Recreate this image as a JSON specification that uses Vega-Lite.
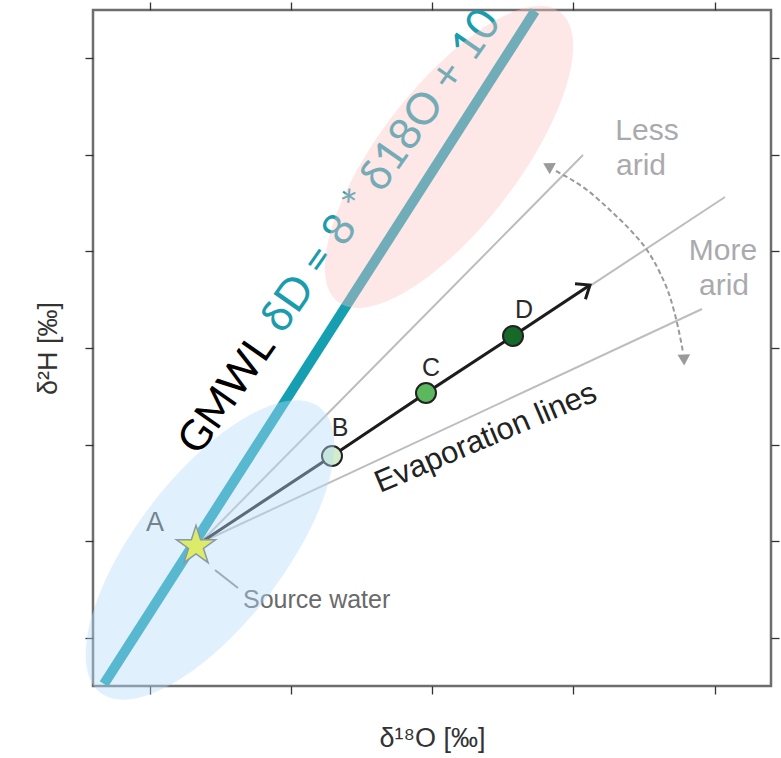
{
  "$schema": "https://vega.github.io/schema/vega-lite/v6.json",
  "width": 678,
  "height": 676,
  "autosize": {"type": "none"},
  "padding": {"left": 93, "top": 10, "right": 10, "bottom": 72},
  "background": "white",
  "data": {
    "values": [
      {"part": "evap", "line": "less arid", "x": -14.57, "y": -100.385},
      {"part": "evap", "line": "less arid", "x": -3.724, "y": -20.03},
      {"part": "evap", "line": "middle", "x": -14.57, "y": -100.385},
      {"part": "evap", "line": "middle", "x": 0.297, "y": -28.728},
      {"part": "evap", "line": "more arid", "x": -14.57, "y": -100.385},
      {"part": "evap", "line": "more arid", "x": -0.354, "y": -51.923},
      {"part": "gmwl", "x": -17.289, "y": -129.586},
      {"part": "gmwl", "x": -5.083, "y": 9.793},
      {"part": "arc", "x": -4.489, "y": -23.343},
      {"part": "arc", "x": -3.611, "y": -27.278},
      {"part": "arc", "x": -2.874, "y": -32.041},
      {"part": "arc", "x": -2.308, "y": -36.183},
      {"part": "arc", "x": -1.911, "y": -39.704},
      {"part": "arc", "x": -1.543, "y": -44.467},
      {"part": "arc", "x": -1.26, "y": -49.438},
      {"part": "arc", "x": -1.034, "y": -55.651},
      {"part": "arc", "x": -0.892, "y": -60.828},
      {"part": "arcHeadUp", "x": -4.715, "y": -22.308},
      {"part": "arcHeadDown", "x": -0.864, "y": -62.485},
      {"part": "path", "x": -14.57, "y": -100.385},
      {"part": "path", "x": -10.832, "y": -82.367},
      {"part": "path", "x": -8.17, "y": -69.319},
      {"part": "path", "x": -5.706, "y": -57.515},
      {"part": "path", "x": -3.526, "y": -46.953},
      {"part": "pathTip", "x": -3.526, "y": -46.953},
      {"part": "sample", "stage": "B", "x": -10.832, "y": -82.367},
      {"part": "sample", "stage": "C", "x": -8.17, "y": -69.319},
      {"part": "sample", "stage": "D", "x": -5.706, "y": -57.515},
      {"part": "origin", "stage": "A", "x": -14.683, "y": -101.006},
      {"part": "leader", "x": -14.145, "y": -105.976},
      {"part": "leader", "x": -13.494, "y": -109.704},
      {"part": "stageLabel", "label": "B", "x": -10.605, "y": -76.568},
      {"part": "stageLabel", "label": "C", "x": -8.028, "y": -64.142},
      {"part": "stageLabel", "label": "D", "x": -5.395, "y": -52.13},
      {"part": "originLabel", "label": "A", "x": -15.844, "y": -96.243},
      {"part": "sourceWater", "label": "Source water", "x": -13.352, "y": -112.189},
      {"part": "evapLabel", "label": "Evaporation lines", "x": -9.473, "y": -90.03},
      {"part": "aridity", "label": "Less", "x": -1.911, "y": -16.923},
      {"part": "aridity", "label": "arid", "x": -2.082, "y": -24.172},
      {"part": "aridity", "label": "More", "x": 0.241, "y": -41.775},
      {"part": "aridity", "label": "arid", "x": 0.269, "y": -49.024},
      {"part": "gmwlName", "label": "GMWL", "x": -14.598, "y": -82.574},
      {"part": "gmwlEquation", "label": "δD = 8 * δ18O + 10", "x": -12.219, "y": -57.308},
      {"part": "recharge", "x": -14.287, "y": -101.834},
      {"part": "enriched", "x": -7.519, "y": -20.444}
    ]
  },
  "layer": [
    {
      "transform": [{"filter": "datum.part === 'evap'"}],
      "mark": {"type": "line", "color": "#bdbdbd", "strokeWidth": 2},
      "encoding": {
        "x": {"field": "x", "type": "quantitative", "scale": {"domain": [-17.6, 1.6], "nice": false, "zero": false},
          "axis": {"orient": "top", "values": [-16, -12, -8, -4, 0], "title": null}},
        "y": {"field": "y", "type": "quantitative", "scale": {"domain": [-130, 10], "nice": false, "zero": false},
          "axis": {"orient": "right", "values": [-120, -100, -80, -60, -40, -20, 0], "title": null}},
        "detail": {"field": "line", "type": "nominal"}
      }
    },
    {
      "encoding": {
        "x": {"field": "x", "type": "quantitative", "scale": {"domain": [-17.6, 1.6], "nice": false, "zero": false},
          "axis": {"orient": "bottom", "values": [-16, -12, -8, -4, 0], "title": "δ¹⁸O [‰]", "titleFont": "Liberation Sans", "titleFontSize": 27, "titleFontWeight": "normal", "titleColor": "#333333", "titlePadding": 31}},
        "y": {"field": "y", "type": "quantitative", "scale": {"domain": [-130, 10], "nice": false, "zero": false},
          "axis": {"orient": "left", "values": [-120, -100, -80, -60, -40, -20, 0], "title": "δ²H [‰]", "titleFont": "Liberation Sans", "titleFontSize": 27, "titleFontWeight": "normal", "titleColor": "#333333", "titlePadding": 22}}
      },
      "layer": [
        {
          "transform": [{"filter": "datum.part === 'gmwl'"}],
          "mark": {"type": "line", "color": "#159fb1", "strokeWidth": 10, "strokeCap": "butt"}
        },
        {
          "transform": [{"filter": "datum.part === 'arc'"}],
          "mark": {"type": "line", "color": "#9a9a9a", "strokeWidth": 2, "strokeDash": [5, 3], "interpolate": "monotone"}
        },
        {
          "transform": [{"filter": "datum.part === 'arcHeadUp'"}],
          "mark": {"type": "point", "shape": "triangle-right", "size": 160, "angle": 209, "filled": true, "color": "#9a9a9a", "opacity": 1}
        },
        {
          "transform": [{"filter": "datum.part === 'arcHeadDown'"}],
          "mark": {"type": "point", "shape": "triangle-right", "size": 160, "angle": 88, "filled": true, "color": "#9a9a9a", "opacity": 1}
        },
        {
          "transform": [{"filter": "datum.part === 'path'"}],
          "mark": {"type": "line", "color": "#1c1c1c", "strokeWidth": 3}
        },
        {
          "transform": [{"filter": "datum.part === 'pathTip'"}],
          "mark": {"type": "point", "shape": "M-1,-0.8L0,0L-1,0.8", "size": 550, "angle": 326.3, "filled": false, "stroke": "#1c1c1c", "strokeWidth": 3, "strokeJoin": "miter", "opacity": 1}
        },
        {
          "transform": [{"filter": "datum.part === 'sample'"}],
          "mark": {"type": "point", "shape": "circle", "size": 400, "filled": true, "stroke": "#222222", "strokeWidth": 2, "opacity": 1},
          "encoding": {
            "color": {"field": "stage", "type": "nominal", "scale": {"domain": ["B", "C", "D"], "range": ["#d3edcb", "#5cb85f", "#17692a"]}, "legend": null}
          }
        },
        {
          "transform": [{"filter": "datum.part === 'origin'"}],
          "mark": {"type": "point", "shape": "M0,-1L0.2245,-0.309L0.9511,-0.309L0.3633,0.118L0.5878,0.809L0,0.382L-0.5878,0.809L-0.3633,0.118L-0.9511,-0.309L-0.2245,-0.309Z", "size": 1700, "filled": true, "color": "#f8f800", "stroke": "#6a6a6a", "strokeWidth": 1.5, "opacity": 1}
        },
        {
          "transform": [{"filter": "datum.part === 'leader'"}],
          "mark": {"type": "line", "color": "#8a8a8a", "strokeWidth": 2}
        },
        {
          "transform": [{"filter": "datum.part === 'stageLabel'"}],
          "mark": {"type": "text", "font": "Liberation Sans", "fontSize": 25, "color": "#2a2a2a", "align": "center", "baseline": "middle"},
          "encoding": {"text": {"field": "label", "type": "nominal"}}
        },
        {
          "transform": [{"filter": "datum.part === 'originLabel'"}],
          "mark": {"type": "text", "font": "Liberation Sans", "fontSize": 27, "color": "#444444", "align": "center", "baseline": "middle"},
          "encoding": {"text": {"field": "label", "type": "nominal"}}
        },
        {
          "transform": [{"filter": "datum.part === 'sourceWater'"}],
          "mark": {"type": "text", "font": "Liberation Sans", "fontSize": 25, "color": "#6a6a6a", "align": "left", "baseline": "middle"},
          "encoding": {"text": {"field": "label", "type": "nominal"}}
        },
        {
          "transform": [{"filter": "datum.part === 'evapLabel'"}],
          "mark": {"type": "text", "font": "Liberation Sans", "fontSize": 31, "color": "#222222", "align": "left", "baseline": "alphabetic", "angle": 337},
          "encoding": {"text": {"field": "label", "type": "nominal"}}
        },
        {
          "transform": [{"filter": "datum.part === 'aridity'"}],
          "mark": {"type": "text", "font": "Liberation Sans", "fontSize": 30, "color": "#aaaaae", "align": "center", "baseline": "alphabetic"},
          "encoding": {"text": {"field": "label", "type": "nominal"}}
        },
        {
          "transform": [{"filter": "datum.part === 'gmwlName'"}],
          "mark": {"type": "text", "font": "Lato", "fontSize": 42, "color": "#000000", "align": "left", "baseline": "alphabetic", "angle": 305},
          "encoding": {"text": {"field": "label", "type": "nominal"}}
        },
        {
          "transform": [{"filter": "datum.part === 'gmwlEquation'"}],
          "mark": {"type": "text", "font": "Lato", "fontSize": 44, "color": "#1a9cad", "align": "left", "baseline": "alphabetic", "angle": 305},
          "encoding": {"text": {"field": "label", "type": "nominal"}}
        },
        {
          "transform": [{"filter": "datum.part === 'recharge'"}],
          "mark": {"type": "point", "shape": "M1,0C1,0.227 0.5523,0.411 0,0.411C-0.5523,0.411 -1,0.227 -1,0C-1,-0.227 -0.5523,-0.411 0,-0.411C0.5523,-0.411 1,-0.227 1,0Z", "size": 129600, "angle": 307.5, "filled": true, "color": "#b4dcfa", "strokeWidth": 0, "opacity": 0.42}
        },
        {
          "transform": [{"filter": "datum.part === 'enriched'"}],
          "mark": {"type": "point", "shape": "M1,0C1,0.211 0.5523,0.382 0,0.382C-0.5523,0.382 -1,0.211 -1,0C-1,-0.211 -0.5523,-0.382 0,-0.382C0.5523,-0.382 1,-0.211 1,0Z", "size": 133225, "angle": 307.5, "filled": true, "color": "#fbc4c4", "strokeWidth": 0, "opacity": 0.4}
        }
      ]
    }
  ],
  "resolve": {"scale": {"x": "independent", "y": "independent"}},
  "config": {
    "view": {"stroke": "#6e6e6e", "strokeWidth": 2.5},
    "axis": {"labels": false, "domain": false, "grid": false, "ticks": true, "tickSize": 8, "tickColor": "#333333", "tickWidth": 1.3}
  }
}
